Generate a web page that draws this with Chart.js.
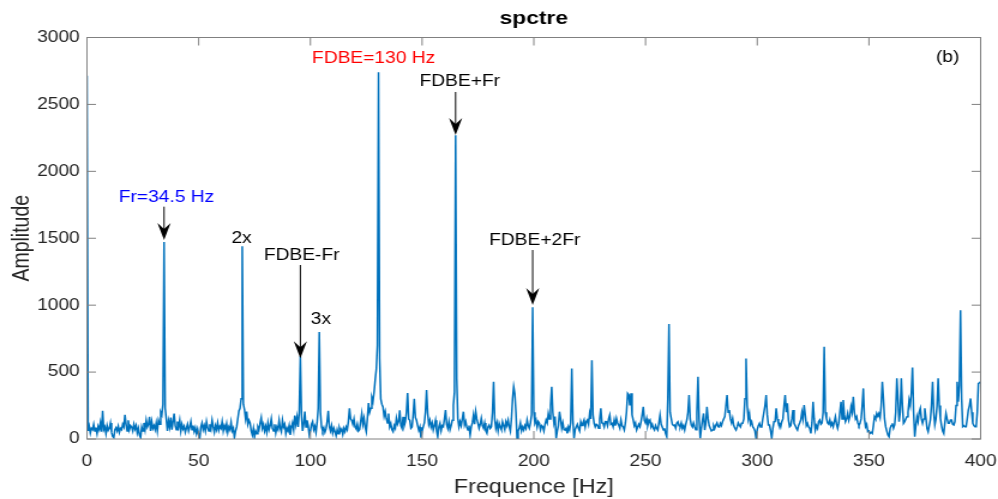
<!DOCTYPE html>
<html>
<head>
<meta charset="utf-8">
<script src="https://cdn.jsdelivr.net/npm/chart.js@4.4.1/dist/chart.umd.min.js"></script>
<style>
  html, body { margin: 0; padding: 0; background: #fff; overflow: hidden; }
  /* the reference figure is stretched horizontally, so the chart is drawn narrow and scaled */
  #wrap { width: 832px; height: 499px; transform: scaleX(1.19952); transform-origin: 0 0; }
</style>
</head>
<body>
<div id="wrap"><canvas id="spectre"></canvas></div>
<script>
// frequency step of the spectrum (Hz)
const df = 0.5;

// amplitude, 0 Hz -> 49.5 Hz
const amp000 = [
  2715, 60, 95, 45, 80, 70, 110, 60, 85, 40, 95, 70, 120, 55, 210, 70, 90, 40, 100, 65,
  80, 120, 50, 20, 10, 70, 85, 60, 95, 50, 80, 70, 110, 90, 180, 110, 60, 140, 70, 100,
  90, 60, 110, 75, 100, 45, 80, 30, 10, 90, 60, 120, 70, 140, 90, 110, 165, 60, 130, 80,
  100, 70, 120, 60, 140, 110, 200, 180, 260, 1472, 230, 150, 60, 135, 90, 160, 70, 130, 190, 100,
  70, 130, 90, 140, 60, 110, 75, 95, 50, 80, 110, 60, 90, 130, 70, 100, 55, 85, 40, 75
];
// 50 Hz -> 99.5 Hz
const amp050 = [
  30, 10, 90, 120, 70, 100, 60, 130, 85, 60, 110, 75, 140, 90, 50, 100, 70, 120, 65, 95,
  80, 130, 60, 100, 75, 115, 50, 90, 70, 125, 60, 80, 10, 60, 90, 150, 210, 230, 300, 1440,
  260, 220, 150, 205, 110, 140, 120, 60, 30, 80, 15, 60, 40, 90, 70, 120, 160, 80, 110, 60,
  95, 50, 120, 70, 100, 150, 80, 60, 110, 45, 90, 70, 140, 80, 55, 140, 90, 110, 40, 80,
  60, 100, 30, 85, 120, 70, 175, 110, 165, 90, 200, 620, 180, 60, 110, 205, 90, 140, 100, 30
];
// 100 Hz -> 149.5 Hz
const amp100 = [
  60, 110, 130, 70, 95, 50, 120, 230, 800, 200, 90, 60, 85, 50, 75, 130, 210, 90, 60, 100,
  45, 80, 55, 25, 70, 40, 85, 60, 75, 35, 80, 55, 90, 70, 130, 230, 150, 140, 110, 150,
  90, 75, 110, 60, 70, 130, 190, 110, 155, 90, 55, 150, 268, 200, 230, 310, 280, 350, 440, 520,
  700, 2740, 600, 300, 260, 240, 170, 205, 155, 120, 190, 90, 115, 70, 55, 100, 80, 155, 110, 130,
  215, 100, 80, 165, 100, 130, 200, 343, 150, 140, 80, 90, 180, 300, 160, 140, 100, 65, 90, 10
];
// 150 Hz -> 199.5 Hz
const amp150 = [
  60, 90, 120, 200, 365, 190, 110, 140, 90, 120, 67, 100, 140, 60, 17, 90, 117, 60, 100, 92,
  150, 216, 110, 80, 130, 70, 100, 140, 253, 350, 2270, 450, 154, 90, 129, 100, 150, 204, 104, 130,
  90, 67, 100, 30, 90, 120, 179, 110, 204, 150, 117, 80, 110, 154, 100, 80, 120, 60, 42, 90,
  104, 80, 92, 200, 428, 150, 80, 120, 60, 117, 90, 70, 129, 100, 70, 129, 100, 140, 92, 60,
  150, 300, 390, 340, 200, 5, 60, 80, 120, 60, 90, 67, 100, 80, 142, 100, 80, 120, 180, 985
];
// 200 Hz -> 249.5 Hz
const amp200 = [
  200, 120, 142, 90, 130, 117, 70, 100, 92, 60, 110, 142, 120, 191, 150, 250, 390, 200, 120, 167,
  5, 60, 100, 204, 150, 80, 120, 70, 67, 80, 42, 90, 67, 120, 527, 140, 5, 70, 92, 110,
  80, 60, 129, 100, 120, 142, 90, 130, 142, 110, 191, 150, 589, 180, 117, 90, 110, 104, 80, 150,
  229, 120, 117, 90, 130, 129, 100, 150, 179, 110, 117, 90, 142, 100, 154, 120, 104, 80, 142, 100,
  90, 67, 120, 200, 341, 330, 250, 341, 180, 142, 100, 120, 67, 90, 110, 92, 130, 180, 241, 140
];
// 250 Hz -> 299.5 Hz
const amp250 = [
  120, 154, 100, 130, 142, 90, 110, 80, 67, 100, 80, 67, 120, 179, 110, 90, 67, 80, 40, 17,
  300, 860, 200, 154, 110, 100, 104, 80, 120, 129, 100, 92, 120, 80, 100, 67, 110, 142, 200, 328,
  150, 104, 90, 120, 92, 70, 200, 465, 150, 5, 80, 140, 191, 67, 120, 241, 150, 100, 80, 60,
  67, 100, 80, 104, 120, 92, 90, 117, 100, 130, 150, 167, 250, 328, 200, 216, 150, 120, 154, 100,
  80, 67, 90, 120, 104, 90, 117, 117, 150, 300, 601, 250, 150, 191, 110, 130, 92, 80, 60, 5
];
// 300 Hz -> 349.5 Hz
const amp300 = [
  70, 100, 117, 90, 92, 150, 200, 250, 328, 180, 104, 104, 60, 5, 80, 129, 130, 229, 150, 117,
  117, 90, 129, 150, 250, 328, 200, 266, 140, 92, 100, 150, 216, 117, 100, 80, 67, 100, 120, 142,
  200, 150, 254, 180, 100, 117, 90, 80, 42, 120, 278, 150, 67, 100, 80, 130, 142, 110, 120, 200,
  689, 200, 154, 120, 110, 142, 100, 120, 92, 130, 166, 110, 80, 120, 200, 278, 150, 291, 180, 129,
  150, 191, 140, 170, 241, 200, 316, 200, 150, 166, 120, 100, 117, 150, 250, 378, 150, 92, 110, 55
];
// 350 Hz -> 400 Hz
const amp350 = [
  60, 42, 50, 42, 100, 166, 150, 191, 170, 191, 160, 250, 428, 300, 150, 92, 60, 30, 17, 80,
  100, 117, 80, 105, 200, 453, 300, 129, 200, 453, 250, 117, 130, 150, 166, 200, 291, 250, 350, 534,
  200, 17, 100, 166, 130, 200, 229, 150, 117, 150, 229, 160, 80, 55, 100, 142, 250, 428, 200, 105,
  150, 250, 453, 250, 154, 100, 60, 42, 120, 191, 150, 117, 117, 142, 142, 110, 105, 130, 250, 428,
  278, 400, 962, 300, 92, 100, 92, 92, 150, 216, 250, 303, 200, 117, 100, 92, 92, 200, 416, 420,
  428
];

const xTicks = [0, 50, 100, 150, 200, 250, 300, 350, 400];
const yTicks = [0, 500, 1000, 1500, 2000, 2500, 3000];

// text notes (frequency / amplitude of the text baseline)
const noteText  = ["FDBE=130 Hz", "FDBE+Fr", "Fr=34.5 Hz", "2x", "FDBE-Fr", "3x", "FDBE+2Fr", "(b)"];
const noteFreq  = [128.3, 166.9, 35.6, 69.2, 96.1, 104.7, 200.4, 385.2];
const noteAmp   = [2807, 2635, 1773, 1462, 1338, 859, 1450, 2817];
const noteColor = ["#ff0000", "#000000", "#0000ff", "#000000", "#000000", "#000000", "#000000", "#000000"];

// arrows (frequency, start amplitude, tip amplitude)
const arrowFreq = [165, 34.5, 95.5, 199.5];
const arrowFrom = [2593, 1736, 1300, 1412];
const arrowTo   = [2272, 1487, 603, 1001];

const amplitude = [].concat(amp000, amp050, amp100, amp150, amp200, amp250, amp300, amp350);
const points = amplitude.map((v, i) => ({ x: i * df, y: v }));

const FONT = "'Liberation Sans', Arial, Helvetica, sans-serif";

const decor = {
  id: "decor",
  afterDraw(chart) {
    const { ctx, chartArea: a, scales: { x, y } } = chart;
    ctx.save();

    // box + inner ticks on all four sides
    ctx.strokeStyle = "#808080";
    ctx.lineWidth = 1;
    ctx.strokeRect(a.left, a.top, a.right - a.left, a.bottom - a.top);
    ctx.beginPath();
    xTicks.forEach(v => {
      const px = x.getPixelForValue(v);
      ctx.moveTo(px, a.bottom); ctx.lineTo(px, a.bottom - 8);
      ctx.moveTo(px, a.top); ctx.lineTo(px, a.top + 8);
    });
    yTicks.forEach(v => {
      const py = y.getPixelForValue(v);
      ctx.moveTo(a.left, py); ctx.lineTo(a.left + 7.5, py);
      ctx.moveTo(a.right, py); ctx.lineTo(a.right - 7.5, py);
    });
    ctx.stroke();

    // title and axis titles
    ctx.fillStyle = "#000";
    ctx.textAlign = "center";
    ctx.textBaseline = "alphabetic";
    ctx.font = "bold 19px " + FONT;
    ctx.fillText("spctre", (a.left + a.right) / 2, 24);
    ctx.fillStyle = "#262626";
    ctx.font = "19.5px " + FONT;
    ctx.fillText("Frequence [Hz]", (a.left + a.right) / 2, 492.5);
    ctx.save();
    ctx.translate(24, (a.top + a.bottom) / 2);
    ctx.rotate(-Math.PI / 2);
    ctx.fillText("Amplitude", 0, 0);
    ctx.restore();

    // notes
    ctx.font = "16px " + FONT;
    noteText.forEach((t, i) => {
      ctx.fillStyle = noteColor[i];
      ctx.fillText(t, x.getPixelForValue(noteFreq[i]), y.getPixelForValue(noteAmp[i]));
    });

    // arrows
    ctx.strokeStyle = "#000";
    ctx.fillStyle = "#000";
    ctx.lineWidth = 1;
    arrowFreq.forEach((f, i) => {
      const px = x.getPixelForValue(f);
      const y0 = y.getPixelForValue(arrowFrom[i]);
      const y1 = y.getPixelForValue(arrowTo[i]);
      ctx.beginPath();
      ctx.moveTo(px, y0);
      ctx.lineTo(px, y1 - 8);
      ctx.stroke();
      ctx.beginPath();
      ctx.moveTo(px, y1);
      ctx.lineTo(px - 5.5, y1 - 17);
      ctx.lineTo(px, y1 - 11);
      ctx.lineTo(px + 5.5, y1 - 17);
      ctx.closePath();
      ctx.fill();
    });
    ctx.restore();
  }
};

new Chart(document.getElementById("spectre").getContext("2d"), {
  type: "line",
  data: {
    datasets: [{
      data: points,
      borderColor: "#0072BD",
      borderWidth: 1.5,
      pointRadius: 0,
      tension: 0,
      fill: false
    }]
  },
  options: {
    responsive: true,
    maintainAspectRatio: false,
    animation: false,
    parsing: false,
    layout: { padding: { left: 0, right: 14.5, top: 37.5, bottom: 0 } },
    plugins: { legend: { display: false }, tooltip: { enabled: false }, title: { display: false } },
    scales: {
      x: {
        type: "linear",
        min: 0,
        max: 400,
        afterBuildTicks: s => { s.ticks = xTicks.map(v => ({ value: v })); },
        afterFit: s => { s.height = 60; s.paddingLeft = 0; s.paddingRight = 0; },
        ticks: {
          callback: v => String(v),
          color: "#262626",
          font: { size: 16, family: FONT },
          padding: 13,
          maxRotation: 0,
          autoSkip: false
        },
        grid: { display: false, drawTicks: false },
        border: { display: false }
      },
      y: {
        min: 0,
        max: 3000,
        afterBuildTicks: s => { s.ticks = yTicks.map(v => ({ value: v })); },
        afterFit: s => { s.width = 72.5; s.paddingTop = 0; s.paddingBottom = 0; },
        ticks: {
          callback: v => String(v),
          color: "#262626",
          font: { size: 16, family: FONT },
          padding: 6
        },
        grid: { display: false, drawTicks: false },
        border: { display: false }
      }
    }
  },
  plugins: [decor]
});
</script>
</body>
</html>
